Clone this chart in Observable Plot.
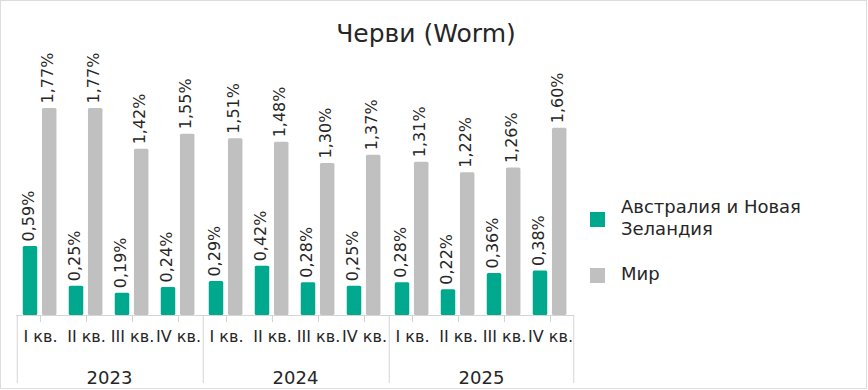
<!DOCTYPE html>
<html>
<head>
<meta charset="utf-8">
<script src="https://cdn.jsdelivr.net/npm/d3@7"></script>
<script src="https://cdn.jsdelivr.net/npm/@observablehq/plot@0.6"></script>
<style>
  html, body { margin: 0; padding: 0; background: #fff; }
  #wrap { position: relative; width: 868px; height: 390px; overflow: hidden; font-family: "DejaVu Sans", sans-serif; color: #262626; }
  #border { position: absolute; left: 0; top: 0; width: 867px; height: 389px; box-sizing: border-box; border: 1px solid #dcdcdc; pointer-events: none; }
  #title { position: absolute; left: 0; width: 852px; top: 18px; text-align: center; font-size: 25px; line-height: 32px; color: #262626; }
  #legend { position: absolute; left: 590px; top: 196px; font-size: 18px; line-height: 22px; color: #262626; }
  .item { position: relative; padding-left: 31px; }
  .sw { position: absolute; left: 0; width: 15px; height: 15px; }
  #chart { position: absolute; left: 0; top: 0; }
</style>
</head>
<body>
<div id="wrap">
  <div id="chart"></div>
  <div id="title"></div>
  <div id="legend"></div>
  <div id="border"></div>
</div>
<script>
// ---- data ----
const title = "Черви (Worm)";
const years = ["2023", "2024", "2025"];
const quarters = ["I кв.", "II кв.", "III кв.", "IV кв."];
const seriesNames = ["Австралия и Новая Зеландия", "Мир"];
const auNz = [0.59, 0.25, 0.19, 0.24, 0.29, 0.42, 0.28, 0.25, 0.28, 0.22, 0.36, 0.38];
const world = [1.77, 1.77, 1.42, 1.55, 1.51, 1.48, 1.30, 1.37, 1.31, 1.22, 1.26, 1.60];
const colors = ["#00a88e", "#c0c0c0"];

// ---- table ----
const rows = [];
years.forEach((yr, i) => quarters.forEach((q, j) => {
  const k = i * quarters.length + j;
  rows.push({year: yr, quarter: q, au: auNz[k], world: world[k]});
}));

const fmt = v => d3.format(".2f")(v).replace(".", ",") + "%";

// ---- layout ----
const W = 868, H = 390, ML = 16, MR = 294, MT = 81, MB = 75;
const step = (W - ML - MR) / (years.length * quarters.length);
const half = step / 2;
const grid = "#d4d4d4";

const plot = Plot.plot({
  width: W,
  height: H,
  marginLeft: ML,
  marginRight: MR,
  marginTop: MT,
  marginBottom: MB,
  style: {fontFamily: "DejaVu Sans, sans-serif", color: "#262626", background: "transparent"},
  fx: {domain: years, padding: 0},
  x: {domain: quarters, padding: 0},
  y: {domain: [0, 2], axis: null},
  marks: [
    Plot.barY(rows, {fx: "year", x: "quarter", y: "au", fill: colors[0],
      insetLeft: half - 17.5, insetRight: half + 2.5, rx: 1.5}),
    Plot.barY(rows, {fx: "year", x: "quarter", y: "world", fill: colors[1],
      insetLeft: half + 1.7, insetRight: half - 16.7, rx: 1.5}),
    Plot.text(rows, {fx: "year", x: "quarter", y: "au", text: d => fmt(d.au),
      rotate: -90, textAnchor: "start", dx: -11.5, dy: -5, fontSize: 16, fill: "#262626"}),
    Plot.text(rows, {fx: "year", x: "quarter", y: "world", text: d => fmt(d.world),
      rotate: -90, textAnchor: "start", dx: 7.7, dy: -5, fontSize: 16, fill: "#262626"}),
    Plot.ruleY([0], {stroke: grid, strokeWidth: 1}),
    Plot.ruleX([quarters[0]], {x: d => d, dx: -half, stroke: grid,
      insetTop: H - MT - MB, insetBottom: -68}),
    Plot.ruleX(rows.filter(d => d.year === years[years.length - 1] && d.quarter === quarters[quarters.length - 1]),
      {fx: "year", x: "quarter", dx: half, stroke: grid, insetTop: H - MT - MB, insetBottom: -68}),
    Plot.axisX({tickSize: 7, tickPadding: 8, fontSize: 16, stroke: grid, fill: "#262626", label: null}),
    Plot.axisFx({anchor: "bottom", tickSize: 0, tickPadding: 56, fontSize: 18, fill: "#262626", label: null})
  ]
});
document.getElementById("chart").appendChild(plot);

// title & legend
document.getElementById("title").textContent = title;
const lg = document.getElementById("legend");
const legendLines = [["Австралия и Новая", "Зеландия"], ["Мир"]];
legendLines.forEach((lines, i) => {
  const it = document.createElement("div");
  it.className = "item";
  it.style.marginBottom = i === 0 ? "23px" : "0";
  const sw = document.createElement("div");
  sw.className = "sw";
  sw.style.background = colors[i];
  sw.style.top = (i === 0 ? 16 : 5) + "px";
  it.appendChild(sw);
  lines.forEach(t => { const s = document.createElement("div"); s.textContent = t; it.appendChild(s); });
  lg.appendChild(it);
});
</script>
</body>
</html>
